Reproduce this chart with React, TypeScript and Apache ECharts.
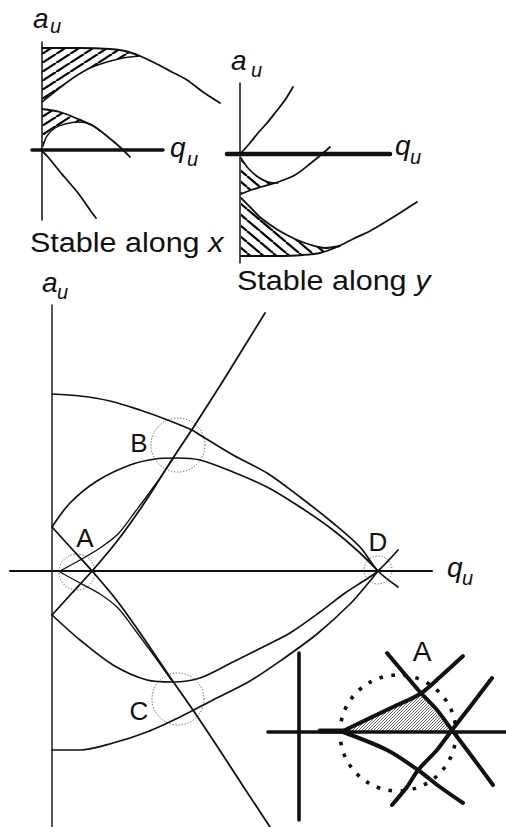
import React, { useEffect, useRef } from "react";
import * as echarts from "echarts";

const W = 506;
const H = 827;
const INK = "#111111";
const FONT = "'Liberation Sans', Arial, Helvetica, sans-serif";

// ---------- top-left inset: stable along x ----------
const tlAxisV = [[42, 42], [42, 220]];
const tlAxisH = [[32, 150], [163, 150]];
const tlTop = [[42, 48], [80, 48], [110, 49], [125, 51], [140, 56], [155, 63], [170, 71], [187, 80], [203, 92], [220, 103]];
const tlLow1 = [[42, 102], [57, 90], [73, 78], [90, 68], [107, 62], [123, 58], [140, 56]];
const tlUp2 = [[42, 109], [60, 112], [78, 119], [95, 127], [108, 137], [121, 148], [130, 157]];
const tlLow2 = [[43, 146], [47, 136], [55, 128], [65, 124], [78, 122], [90, 124], [100, 131]];
const tlDesc = [[43, 152], [48, 157], [61, 173], [78, 193], [90, 210], [96, 218]];

// ---------- top-right inset: stable along y ----------
const trAxisV = [[240, 83], [240, 263]];
const trAxisH = [[227, 154], [390, 154]];
const trRise = [[240, 154], [250, 143], [258, 133], [267, 123], [275, 113], [285, 100], [293, 87]];
const trDesc1 = [[241, 158], [248, 168], [258, 177], [268, 182], [278, 183]];
const trRise1 = [[241, 194], [251, 190], [261, 187], [278, 182], [295, 175], [311, 163], [322, 154], [330, 147]];
const trDesc2 = [[241, 198], [251, 208], [261, 218], [278, 230], [295, 239], [311, 245], [325, 248], [340, 246]];
const trBottom = [[241, 256], [280, 256], [303, 255], [320, 253], [337, 247], [353, 239], [370, 231], [387, 221], [403, 211], [417, 202]];

// ---------- main diagram ----------
const mAxisV = [[52, 305], [52, 827]];
const mAxisH = [[10, 571], [432, 571]];
const mTopOuter = [[52, 394], [80, 396], [110, 401], [140, 410], [165, 419], [192, 430], [200, 435], [233, 455], [267, 473], [300, 497], [333, 523], [360, 547], [378, 571], [398, 587]];
const mTopInner = [[52, 527], [70, 503], [97, 481], [130, 465], [155, 459], [177, 458], [200, 460], [233, 472], [267, 487], [300, 507], [333, 530], [360, 553], [378, 571]];
const mBotOuter = [[52, 750], [80, 750], [113, 743], [147, 732], [180, 717], [213, 700], [250, 681], [283, 659], [317, 634], [350, 604], [370, 581], [378, 571]];
const mBotInner = [[52, 615], [80, 640], [113, 665], [147, 680], [173, 682], [200, 678], [233, 662], [267, 645], [290, 633], [320, 612], [345, 593], [362, 582], [378, 571], [398, 550]];
const mRise = [[52, 615], [72, 593], [93, 570], [118, 540], [145, 502], [173, 458], [193, 428], [223, 381], [265, 313]];
const mFall = [[52, 527], [72, 549], [93, 572], [118, 602], [145, 640], [172, 680], [193, 710], [217, 746], [243, 786], [270, 827]];
const mRiseTwin = [[60, 571], [80, 560], [100, 548], [118, 534], [135, 512], [155, 485], [173, 459]];
const mFallTwin = [[60, 572], [80, 583], [100, 594], [118, 608], [135, 630], [155, 657], [172, 681]];

// ---------- zoomed inset around A ----------
const zAxisV = [[299, 653], [299, 820]];
const zAxisH = [[268, 732], [507, 732]];
const zAxisStub = [[320, 731], [343, 731]];
const zUpLeft = [[343, 731], [393, 707], [420, 694], [440, 677], [463, 656]];
const zDownLeft = [[343, 732], [387, 750], [418, 770], [440, 787], [463, 803]];
const zFall = [[387, 653], [403, 672], [420, 692], [437, 710], [452, 730], [473, 758], [493, 785]];
const zRise = [[392, 805], [407, 787], [418, 770], [437, 750], [452, 730], [473, 703], [492, 678]];
const zTriangle = [[345, 731], [420, 694], [451, 731]];

// dotted circles: [cx, cy, r, kind]
const circles = [
  [77, 572, 18, 0],
  [178, 445, 27, 0],
  [178, 699, 26, 0],
  [378, 570, 14, 0],
  [398, 733, 58, 1],
];

// labels: [text, x, y, size, italic, align, scaleX]
const labels: [string, number, number, number, boolean, string, number][] = [
  ["a", 33, 18, 28, true, "left", 1],
  ["u", 50, 26, 20, true, "left", 1],
  ["q", 170, 147, 28, true, "left", 1],
  ["u", 187, 159, 20, true, "left", 1],
  ["a", 231, 60, 28, true, "left", 1],
  ["u", 251, 70, 20, true, "left", 1],
  ["q", 395, 145, 28, true, "left", 1],
  ["u", 410, 157, 20, true, "left", 1],
  ["a", 42, 282, 28, true, "left", 1],
  ["u", 57, 292, 20, true, "left", 1],
  ["q", 447, 567, 28, true, "left", 1],
  ["u", 462, 578, 20, true, "left", 1],
  ["A", 85, 538, 26, false, "center", 1],
  ["B", 139, 443, 26, false, "center", 1],
  ["C", 139, 711, 26, false, "center", 1],
  ["D", 378, 542, 26, false, "center", 1],
  ["A", 422, 651, 28, false, "center", 1],
];
const captions: [string, string, number, number][] = [
  ["Stable along ", "x", 30, 242],
  ["Stable along ", "y", 237, 280],
];

function hatch(w: number, h: number, lw: number, color: string, dir: string) {
  const c = document.createElement("canvas");
  c.width = w;
  c.height = h;
  const g = c.getContext("2d")!;
  g.strokeStyle = color;
  g.lineWidth = lw;
  for (let k = -1; k <= 1; k++) {
    g.beginPath();
    if (dir === "/") {
      g.moveTo(k * w, h);
      g.lineTo(k * w + w, 0);
    } else {
      g.moveTo(k * w, 0);
      g.lineTo(k * w + w, h);
    }
    g.stroke();
  }
  return { image: c, repeat: "repeat", imageWidth: w, imageHeight: h };
}

function line(data: number[][], width = 1.7, smooth: number | boolean = 0.3) {
  return {
    type: "line",
    data,
    symbol: "none",
    smooth,
    silent: true,
    z: 3,
    lineStyle: { color: INK, width, cap: "round", join: "round" },
  };
}

export default function App() {
  const ref = useRef<HTMLDivElement>(null);
  useEffect(() => {
    if (!ref.current) return;
    const chart = echarts.init(ref.current, null, { renderer: "svg" });
    const patX = hatch(14, 9, 2.2, "#000", "/");
    const patY = hatch(13, 11, 2.2, "#000", "\\");
    const patFine = hatch(3, 3, 0.8, "#444", "/");

    const regions = [
      { pts: tlTop.slice(0, 5).concat(tlLow1.slice(0, 6).reverse()), fill: patX },
      { pts: tlUp2.slice(0, 4).concat([[100, 131]], tlLow2.slice(0, 6).reverse()), fill: patX },
      { pts: trDesc1.concat(trRise1.slice(0, 3).reverse()), fill: patY },
      { pts: trDesc2.slice(0, 7).concat([[337, 247]], trBottom.slice(0, 4).reverse()), fill: patY },
      { pts: zTriangle, fill: patFine },
    ];

    const series: any[] = [
      {
        type: "custom",
        coordinateSystem: "cartesian2d",
        silent: true,
        z: 1,
        data: regions.map((r, i) => [r.pts[0][0], r.pts[0][1], i]),
        renderItem: (params: any, api: any) => {
          const r = regions[params.dataIndex];
          return {
            type: "polygon",
            shape: { points: r.pts.map((p) => api.coord(p)) },
            style: { fill: r.fill, stroke: null },
          };
        },
      },
      {
        type: "custom",
        coordinateSystem: "cartesian2d",
        silent: true,
        z: 2,
        data: circles,
        renderItem: (params: any, api: any) => {
          const c = circles[params.dataIndex];
          const p = api.coord([c[0], c[1]]);
          const r = api.size([c[2], 0])[0];
          const big = c[3] === 1;
          return {
            type: "circle",
            shape: { cx: p[0], cy: p[1], r },
            style: {
              fill: null,
              stroke: big ? "#111" : "#555",
              lineWidth: big ? 3.6 : 1,
              lineDash: big ? [3.6, 8.5] : [1.2, 1.8],
            },
          };
        },
      },
      // axes
      line(tlAxisV, 1.5, false),
      line(tlAxisH, 3.5, false),
      line(trAxisV, 1.5, false),
      line(trAxisH, 4.5, false),
      line(mAxisV, 1.4, false),
      line(mAxisH, 2.2, false),
      line(zAxisV, 3.6, false),
      line(zAxisH, 3.6, false),
      line(zAxisStub, 5, false),
      // top-left curves
      line(tlTop, 1.8, 0.3),
      line(tlLow1, 1.6, 0.3),
      line(tlUp2, 1.8, 0.3),
      line(tlLow2, 1.4, 0.3),
      line(tlDesc, 1.8, 0.3),
      // top-right curves
      line(trRise, 1.8, 0.3),
      line(trDesc1, 1.6, 0.3),
      line(trRise1, 1.8, 0.3),
      line(trDesc2, 1.8, 0.3),
      line(trBottom, 1.8, 0.3),
      // main curves
      line(mTopOuter, 1.7, 0.3),
      line(mTopInner, 1.7, 0.3),
      line(mBotOuter, 1.7, 0.3),
      line(mBotInner, 1.7, 0.3),
      line(mRise, 1.8, 0.2),
      line(mFall, 1.8, 0.2),
      line(mRiseTwin, 1.3, 0.3),
      line(mFallTwin, 1.3, 0.3),
      // zoomed inset
      line(zUpLeft, 4, 0.3),
      line(zDownLeft, 4, 0.3),
      line(zFall, 4, 0.2),
      line(zRise, 4, 0.2),
      {
        type: "custom",
        coordinateSystem: "cartesian2d",
        silent: true,
        z: 5,
        data: labels.map((l) => [l[1], l[2]]),
        renderItem: (params: any, api: any) => {
          const l = labels[params.dataIndex];
          const p = api.coord([l[1], l[2]]);
          return {
            type: "text",
            x: p[0],
            y: p[1],
            scaleX: l[6],
            style: {
              text: l[0],
              fontSize: l[3],
              fontFamily: FONT,
              fontStyle: l[4] ? "italic" : "normal",
              fill: INK,
              align: l[5],
              verticalAlign: "middle",
            },
          };
        },
      },
      {
        type: "custom",
        coordinateSystem: "cartesian2d",
        silent: true,
        z: 5,
        data: captions.map((c) => [c[2], c[3]]),
        renderItem: (params: any, api: any) => {
          const c = captions[params.dataIndex];
          const p = api.coord([c[2], c[3]]);
          return {
            type: "text",
            x: p[0],
            y: p[1],
            scaleX: 1.09,
            style: {
              text: "{n|" + c[0] + "}{i|" + c[1] + "}",
              fill: INK,
              align: "left",
              verticalAlign: "middle",
              rich: {
                n: { fontSize: 28, fontFamily: FONT, fill: INK },
                i: { fontSize: 28, fontFamily: FONT, fontStyle: "italic", fill: INK },
              },
            },
          };
        },
      },
    ];

    chart.setOption({
      animation: false,
      backgroundColor: "#ffffff",
      grid: { left: 0, right: 0, top: 0, bottom: 0 },
      xAxis: { type: "value", min: 0, max: W, show: false },
      yAxis: { type: "value", min: 0, max: H, inverse: true, show: false },
      series,
    });
    return () => chart.dispose();
  }, []);

  return (
    <div
      ref={ref}
      style={{ position: "absolute", left: 0, top: 0, width: W, height: H, background: "#fff" }}
    />
  );
}
